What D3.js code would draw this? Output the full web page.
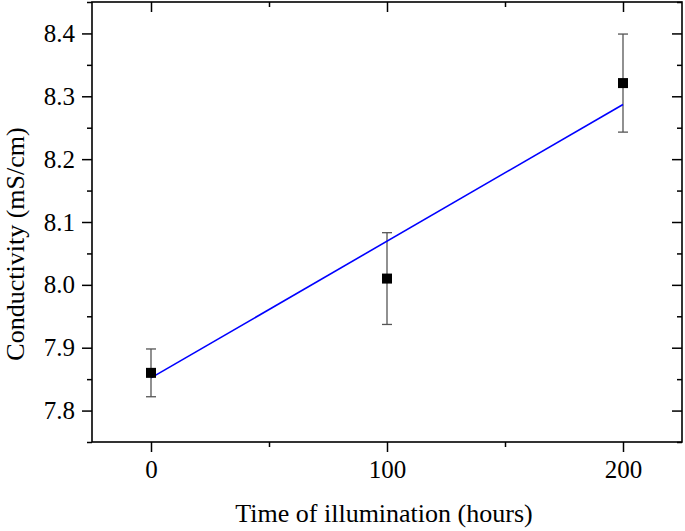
<!DOCTYPE html>
<html>
<head>
<meta charset="utf-8">
<script src="https://cdn.jsdelivr.net/npm/d3@7"></script>
<style>
  body { margin: 0; background: #fff; }
</style>
</head>
<body>
<div id="chart"></div>
<script>
(function () {
    'use strict';

    // measured points
    var hours = [0, 100, 200],
        conductivity = [7.86, 8.01, 8.321],
        errors = [0.038, 0.073, 0.078],
        // linear fit end points
        fitHours = [0, 200],
        fitConductivity = [7.852, 8.287],
        xTicks = [0, 100, 200],
        xMinorTicks = [50, 150],
        yTicks = [7.8, 7.9, 8.0, 8.1, 8.2, 8.3, 8.4],
        yMinorTicks = [7.75, 7.85, 7.95, 8.05, 8.15, 8.25, 8.35, 8.45];

    var serif = '"Liberation Serif", "Times New Roman", "DejaVu Serif", serif',
        width = 685,
        height = 531,
        margin = {top: 2, right: 3, bottom: 89, left: 92},
        plotW = width - margin.left - margin.right,
        plotH = height - margin.top - margin.bottom,

        svg = d3.select('#chart')
            .append('svg')
            .attr('width', width)
            .attr('height', height),

        g = svg.append('g')
            .attr('transform', 'translate(' + margin.left + ',' + margin.top + ')'),

        x = d3.scaleLinear().domain([-25, 225]).range([0, plotW]),
        y = d3.scaleLinear().domain([7.75, 8.45]).range([plotH, 0]);

    var fmtX = d3.format('d'),
        fmtY = d3.format('.1f');

    function styleAxis(sel) {
        sel.attr('font-family', serif).attr('font-size', 25);
        sel.select('.domain').remove();
        sel.selectAll('line').attr('stroke', '#000').attr('stroke-width', 1.5);
        sel.selectAll('text')
            .style('font-family', serif)
            .style('font-size', '25px')
            .attr('fill', '#000');
    }

    // bottom axis (outward ticks)
    g.append('g')
        .attr('transform', 'translate(0,' + plotH + ')')
        .call(d3.axisBottom(x).tickValues(xTicks).tickFormat(fmtX).tickSizeInner(10).tickPadding(8))
        .call(styleAxis);
    g.append('g')
        .attr('transform', 'translate(0,' + plotH + ')')
        .call(d3.axisBottom(x).tickValues(xMinorTicks).tickFormat('').tickSizeInner(5))
        .call(styleAxis);

    // left axis (outward ticks)
    g.append('g')
        .call(d3.axisLeft(y).tickValues(yTicks).tickFormat(fmtY).tickSizeInner(10).tickPadding(7))
        .call(styleAxis);
    g.append('g')
        .call(d3.axisLeft(y).tickValues(yMinorTicks).tickFormat('').tickSizeInner(5))
        .call(styleAxis);

    // top and right axes (inward ticks)
    g.append('g')
        .call(d3.axisTop(x).tickValues(xTicks).tickFormat('').tickSizeInner(-10))
        .call(styleAxis);
    g.append('g')
        .call(d3.axisTop(x).tickValues(xMinorTicks).tickFormat('').tickSizeInner(-5))
        .call(styleAxis);
    g.append('g')
        .attr('transform', 'translate(' + plotW + ',0)')
        .call(d3.axisRight(y).tickValues(yTicks).tickFormat('').tickSizeInner(-10))
        .call(styleAxis);
    g.append('g')
        .attr('transform', 'translate(' + plotW + ',0)')
        .call(d3.axisRight(y).tickValues(yMinorTicks).tickFormat('').tickSizeInner(-5))
        .call(styleAxis);

    // frame
    g.append('rect')
        .attr('width', plotW)
        .attr('height', plotH)
        .style('fill', 'none')
        .style('stroke', '#000')
        .style('stroke-width', '1.6px');

    var pts = hours.map(function (h, i) {
        return {x: h, y: conductivity[i], e: errors[i]};
    });

    // error bars
    var eb = g.selectAll('.err').data(pts).enter().append('g').attr('class', 'err')
        .style('stroke', '#555')
        .style('stroke-width', '1.3px');
    eb.append('line')
        .attr('x1', function (d) { return x(d.x); })
        .attr('x2', function (d) { return x(d.x); })
        .attr('y1', function (d) { return y(d.y - d.e); })
        .attr('y2', function (d) { return y(d.y + d.e); });
    [-1, 1].forEach(function (s) {
        eb.append('line')
            .attr('x1', function (d) { return x(d.x) - 5; })
            .attr('x2', function (d) { return x(d.x) + 5; })
            .attr('y1', function (d) { return y(d.y + s * d.e); })
            .attr('y2', function (d) { return y(d.y + s * d.e); });
    });

    // fit line
    g.append('path')
        .datum(fitHours.map(function (h, i) { return [h, fitConductivity[i]]; }))
        .attr('d', d3.line()
            .x(function (d) { return x(d[0]); })
            .y(function (d) { return y(d[1]); }))
        .style('fill', 'none')
        .style('stroke', '#0000ff')
        .style('stroke-width', '1.6px');

    // markers
    g.selectAll('.pt').data(pts).enter().append('rect')
        .attr('class', 'pt')
        .attr('x', function (d) { return x(d.x) - 5; })
        .attr('y', function (d) { return y(d.y) - 5; })
        .attr('width', 10)
        .attr('height', 10)
        .style('fill', '#000');

    // axis titles
    svg.append('text')
        .attr('x', 384)
        .attr('y', 522)
        .attr('text-anchor', 'middle')
        .style('font-family', serif)
        .style('font-size', '26px')
        .text('Time of illumination (hours)');

    svg.append('text')
        .attr('transform', 'translate(24,244) rotate(-90)')
        .attr('text-anchor', 'middle')
        .style('font-family', serif)
        .style('font-size', '26px')
        .text('Conductivity (mS/cm)');
}());
</script>
</body>
</html>
